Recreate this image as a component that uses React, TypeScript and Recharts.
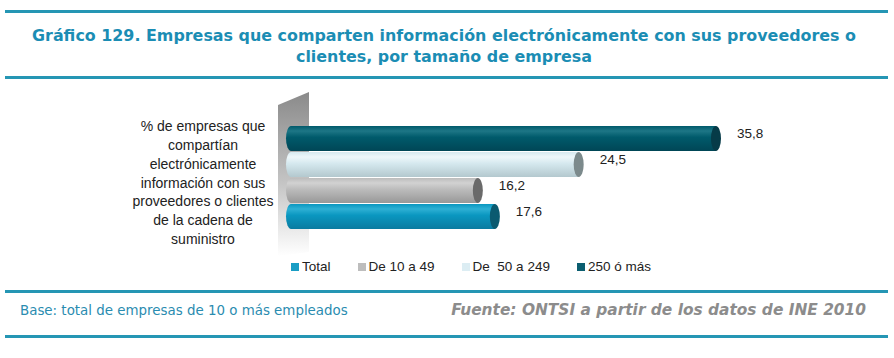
import { BarChart, Bar, XAxis, YAxis, LabelList } from 'recharts';

const categoryLines = [
  '% de empresas que',
  'compartían',
  'electrónicamente',
  'información con sus',
  'proveedores o clientes',
  'de la cadena de',
  'suministro',
];
const categories = [categoryLines.join(' ')];

const total = [17.6];
const de10a49 = [16.2];
const de50a249 = [24.5];
const de250 = [35.8];

const legendOrder = ['Total', 'De 10 a 49', 'De  50 a 249', '250 ó más'];

const data = categories.map((name, i) => ({
  name,
  total: total[i],
  de10a49: de10a49[i],
  de50a249: de50a249[i],
  de250: de250[i],
}));

// drawn top to bottom in the chart
const series = [
  { key: 'de250', name: '250 ó más', grad: ['#1d7686', '#005a6b', '#004656'], cap: '#063b48', swatch: '#0b5e70' },
  { key: 'de50a249', name: 'De  50 a 249', grad: ['#eef7fa', '#d6e9ef', '#b3c8ce'], cap: '#7c8a8c', swatch: '#dcedf3' },
  { key: 'de10a49', name: 'De 10 a 49', grad: ['#d2d2d2', '#bcbcbc', '#989898'], cap: '#6a6a6a', swatch: '#bdbdbd' },
  { key: 'total', name: 'Total', grad: ['#2eb0d4', '#0a97c0', '#0a7ba0'], cap: '#0b5a70', swatch: '#1a9dc4' },
];

const fmt = (v: number) => v.toFixed(1).replace('.', ',');

function Cylinder(props: any, s: typeof series[number]) {
  const { x, y, width, height } = props;
  if (!width || width <= 0) return null;
  const rx = 5;
  const ry = height / 2;
  return (
    <g>
      <path
        d={`M${x + rx},${y} L${x + width - rx},${y} L${x + width - rx},${y + height} L${x + rx},${y + height} A${rx},${ry} 0 0 1 ${x + rx},${y} Z`}
        fill={`url(#g-${s.key})`}
      />
      <ellipse cx={x + width - rx} cy={y + ry} rx={rx} ry={ry} fill={s.cap} />
    </g>
  );
}

function CategoryTick(props: any) {
  const { x, y } = props;
  const cx = x - 75;
  const lh = 18.7;
  const n = categoryLines.length;
  return (
    <text x={cx} y={y} textAnchor="middle" fontFamily="'Liberation Sans', Arial, sans-serif" fontSize={14} fill="#222">
      {categoryLines.map((l, i) => (
        <tspan key={i} x={cx} y={y + (i - (n - 1) / 2) * lh + 10}>
          {l}
        </tspan>
      ))}
    </text>
  );
}

function ValueLabel(props: any) {
  const { x, y, width, height, value } = props;
  return (
    <text x={x + width + 16} y={y + height / 2 - 1} fontFamily="'Liberation Sans', Arial, sans-serif" fontSize={13.5} fill="#222">
      {fmt(value)}
    </text>
  );
}

const rule = (top: number) => (
  <div style={{ position: 'absolute', left: 5, top, width: 883, height: 3, background: '#2596b4' }} />
);

export default function App() {
  return (
    <div style={{ position: 'absolute', left: 0, top: 0, width: 894, height: 358, background: '#fff', overflow: 'hidden' }}>
      {rule(10)}
      <div
        style={{
          position: 'absolute',
          left: -3,
          top: 25,
          width: 894,
          textAlign: 'center',
          fontFamily: "'DejaVu Sans', Verdana, sans-serif",
          fontWeight: 'bold',
          fontSize: 15.9,
          lineHeight: '21px',
          color: '#1b8db4',
        }}
      >
        Gráfico 129. Empresas que comparten información electrónicamente con sus proveedores o
        <br />
        clientes, por tamaño de empresa
      </div>
      {rule(76)}

      <svg style={{ position: 'absolute', left: 0, top: 0 }} width={894} height={358}>
        <defs>
          <linearGradient id="wall" x1="0" y1="0" x2="0" y2="1">
            <stop offset="0" stopColor="#8a8a8a" />
            <stop offset="0.55" stopColor="#c4c4c4" />
            <stop offset="1" stopColor="#ffffff" />
          </linearGradient>
        </defs>
        <polygon points="278,105 309,92 309,252 278,256" fill="url(#wall)" />
      </svg>

      <div style={{ position: 'absolute', left: 0, top: 0 }}>
        <BarChart
          width={894}
          height={358}
          data={data}
          layout="vertical"
          margin={{ top: 120, right: 122, bottom: 123, left: 0 }}
          barSize={25}
          barGap={1}
        >
          <defs>
            {series.map((s) => (
              <linearGradient key={s.key} id={`g-${s.key}`} x1="0" y1="0" x2="0" y2="1">
                <stop offset="0" stopColor={s.grad[1]} />
                <stop offset="0.2" stopColor={s.grad[0]} />
                <stop offset="0.45" stopColor={s.grad[1]} />
                <stop offset="1" stopColor={s.grad[2]} />
              </linearGradient>
            ))}
          </defs>
          <XAxis type="number" domain={[0, 40]} hide />
          <YAxis type="category" dataKey="name" width={286} axisLine={false} tickLine={false} tick={<CategoryTick />} />
          {series.map((s) => (
            <Bar key={s.key} dataKey={s.key} name={s.name} isAnimationActive={false} shape={(p: any) => Cylinder(p, s)}>
              <LabelList dataKey={s.key} content={<ValueLabel />} />
            </Bar>
          ))}
        </BarChart>
      </div>

      <div
        style={{
          position: 'absolute',
          left: 291,
          top: 259,
          display: 'flex',
          alignItems: 'center',
          fontFamily: "'Liberation Sans', Arial, sans-serif",
          fontSize: 13.5,
          color: '#222',
          whiteSpace: 'pre',
        }}
      >
        {legendOrder.map((name) => {
          const s = series.find((x) => x.name === name)!;
          return (
            <div key={name} style={{ display: 'flex', alignItems: 'center', marginRight: 27 }}>
              <span style={{ width: 8, height: 8, background: s.swatch, marginRight: 3, display: 'inline-block' }} />
              {name}
            </div>
          );
        })}
      </div>

      {rule(290)}
      <div
        style={{
          position: 'absolute',
          left: 20,
          top: 303,
          fontFamily: "'DejaVu Sans', Verdana, sans-serif",
          fontSize: 13.4,
          color: '#2a8cb0',
        }}
      >
        Base: total de empresas de 10 o más empleados
      </div>
      <div
        style={{
          position: 'absolute',
          right: 28,
          top: 301,
          fontFamily: "'DejaVu Sans', Verdana, sans-serif",
          fontSize: 15.4,
          fontWeight: 'bold',
          fontStyle: 'italic',
          color: '#8c8c8c',
        }}
      >
        Fuente: ONTSI a partir de los datos de INE 2010
      </div>
      {rule(335)}
    </div>
  );
}
